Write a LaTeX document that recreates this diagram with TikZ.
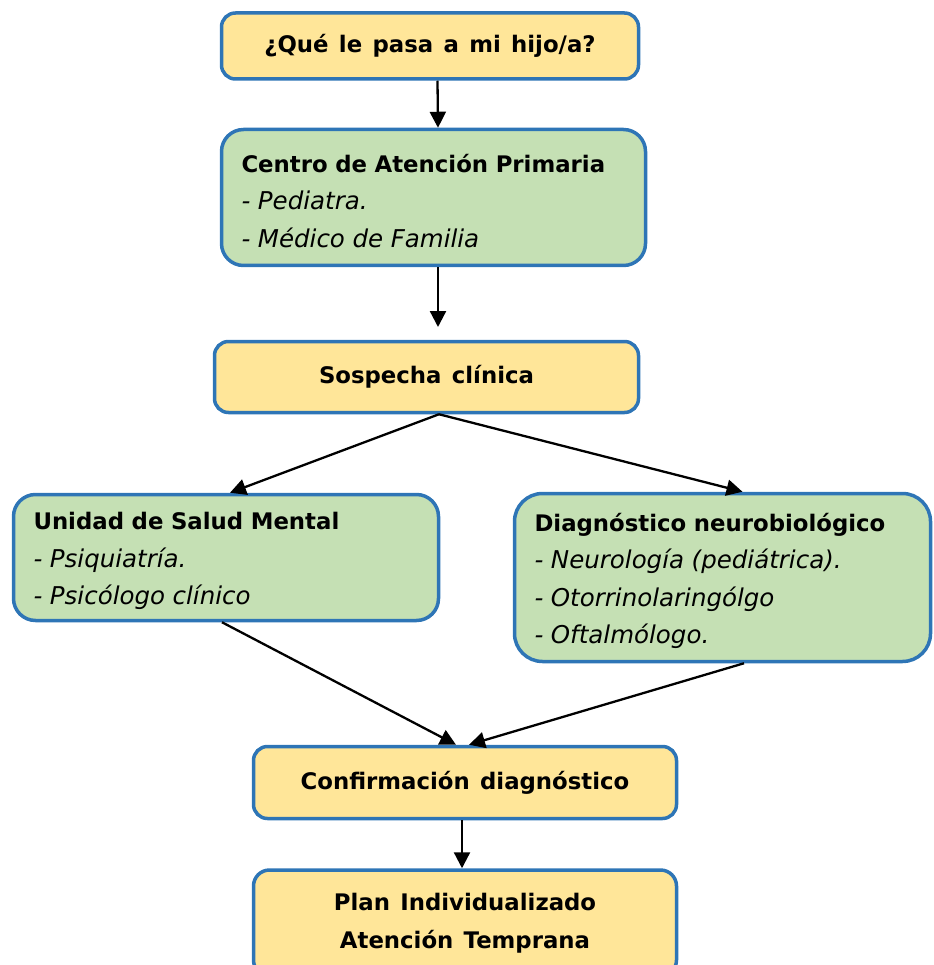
\documentclass[tikz,border=0pt]{standalone}
\usepackage{fontspec}
\setmainfont[WordSpace=1.3]{DejaVu Sans}
\usetikzlibrary{arrows.meta}
\definecolor{boxblue}{HTML}{2E75B6}
\definecolor{boxyellow}{HTML}{FFE699}
\definecolor{boxgreen}{HTML}{C5E0B4}
\newcommand{\itm}[1]{{\fontsize{24.5}{37.5}\selectfont\itshape #1}}
\newcommand{\hd}[1]{\rule{0pt}{25pt}\textbf{#1}}

\begin{document}
\begin{tikzpicture}[x=1pt,y=-1pt,
  yellowbox/.style={draw=boxblue,line width=3.5pt,fill=boxyellow,rounded corners=14pt,inner sep=0pt,align=center,font=\fontsize{22.8}{37.5}\selectfont\bfseries},
  greenbox/.style={draw=boxblue,line width=3.5pt,fill=boxgreen,rounded corners=22pt,inner xsep=20pt,inner ysep=0pt,align=left,font=\fontsize{22.8}{37.5}\selectfont},
  arr/.style={line width=2.3pt,-{Triangle[length=16pt,width=16pt]}}]
 \useasboundingbox (0,0) rectangle (933,965);
 \node[yellowbox,minimum width=417pt,minimum height=66pt] (que) at (430,46) {¿Qué le pasa a mi hijo/a?};
 \node[greenbox,text width=384pt,minimum height=136pt] (centro) at (433.5,197.5) {\hd{Centro de Atención Primaria}\\\itm{- Pediatra.}\\\itm{- Médico de Familia}};
 \node[yellowbox,minimum width=424pt,minimum height=71pt] (sosp) at (426.5,377) {Sospecha clínica};
 \node[greenbox,text width=385pt,minimum height=126pt] (unidad) at (226,557.5) {\hd{Unidad de Salud Mental}\\\itm{- Psiquiatría.}\\\itm{- Psicólogo clínico}};
 \node[greenbox,rounded corners=28pt,text width=376pt,minimum height=168pt] (diag) at (722.5,577.5) {\hd{Diagnóstico neurobiológico}\\\itm{- Neurología (pediátrica).}\\\itm{- Otorrinolaringólgo}\\\itm{- Oftalmólogo.}};
 \node[yellowbox,minimum width=423pt,minimum height=72pt] (confirm) at (465,782.5) {Confirmación diagnóstico};
 \node[yellowbox,rounded corners=16pt,minimum width=423pt,minimum height=106pt] (plan) at (465,923) {Plan Individualizado\\Atención Temprana};
 \coordinate (sospin) at (438,327);
 \draw[arr] ([xshift=7.5pt]que.south) -- ([xshift=4.5pt]centro.north);
 \draw[arr] ([xshift=4.5pt]centro.south) -- (sospin);
 \draw[arr] ([xshift=12.5pt]sosp.south) -- ([xshift=4pt]unidad.north);
 \draw[arr] ([xshift=12.5pt]sosp.south) -- ([xshift=20pt]diag.north);
 \draw[arr] ([xshift=-4pt]unidad.south) -- ([xshift=-9pt]confirm.north);
 \draw[arr] ([xshift=21.5pt]diag.south) -- ([xshift=4pt]confirm.north);
 \draw[arr] ([xshift=-3pt]confirm.south) -- ([xshift=-3pt]plan.north);
\end{tikzpicture}
\end{document}
